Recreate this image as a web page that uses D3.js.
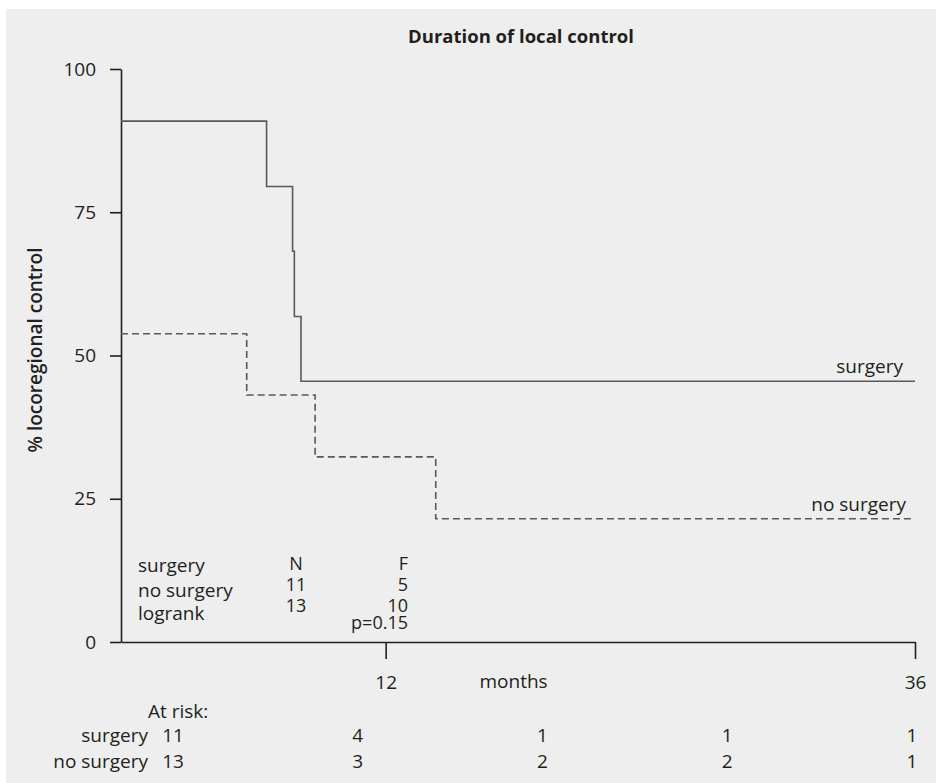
<!DOCTYPE html>
<html>
<head>
<meta charset="utf-8">
<script src="https://cdn.jsdelivr.net/npm/d3@7"></script>
<style>
  html, body { margin: 0; padding: 0; background: #ffffff; }
  svg { display: block; }
  text { font-family: "Open Sans", "Noto Sans", sans-serif; fill: #231f20; }
</style>
</head>
<body>
<script>
// Kaplan–Meier estimates of locoregional control (percent) by month
const surgeryTimes   = [0, 6.6, 7.78, 7.86, 8.16, 36];
const surgeryValues  = [90.9, 79.5, 68.2, 56.8, 45.5, 45.5];
const noSurgeryTimes  = [0, 5.7, 8.8, 14.27, 36];
const noSurgeryValues = [53.8, 43.1, 32.3, 21.5, 21.5];

const yTicks = [0, 25, 50, 75, 100];
const xTicks = [12, 36];

// Summary table inside the plot
const groupNames = ["surgery", "no surgery"];
const groupN = [11, 13];
const groupF = [5, 10];
const logrankP = "p=0.15";

// Numbers at risk
const riskTimes = [0, 9, 18, 27, 36];
const riskSurgery = [11, 4, 1, 1, 1];
const riskNoSurgery = [13, 3, 2, 2, 1];

const W = 936, H = 783;
const svg = d3.select("body").append("svg").attr("width", W).attr("height", H);

// panel background
svg.append("rect").attr("x", 6).attr("y", 9).attr("width", W - 6).attr("height", H - 9)
  .attr("fill", "#eeeeee");

const x = d3.scaleLinear().domain([0, 36]).range([121, 915]);
const y = d3.scaleLinear().domain([0, 100]).range([642, 69]);
const xRisk = d3.scaleLinear().domain([0, 36]).range([173, 912]);

const axisColor = "#231f20";
const curveColor = "#58595b";
const fs = 19;

// y axis
const gy = svg.append("g").attr("transform", `translate(${x(0)},0)`)
  .call(d3.axisLeft(y).tickValues(yTicks).tickSize(11).tickSizeOuter(0).tickPadding(14));
gy.select(".domain").attr("stroke", axisColor).attr("stroke-width", 1.6);
gy.selectAll(".tick line").attr("stroke", axisColor).attr("stroke-width", 1.6);
gy.selectAll(".tick text").attr("font-size", fs).attr("font-family", "Open Sans").attr("fill", "#231f20");

// x axis
const gx = svg.append("g").attr("transform", `translate(0,${y(0)})`)
  .call(d3.axisBottom(x).tickValues(xTicks).tickSize(17).tickSizeOuter(0).tickPadding(17));
gx.select(".domain").attr("stroke", axisColor).attr("stroke-width", 1.6);
gx.selectAll(".tick line").attr("stroke", axisColor).attr("stroke-width", 1.6);
gx.selectAll(".tick text").attr("font-size", fs).attr("font-family", "Open Sans").attr("fill", "#231f20");

svg.append("text").attr("x", x(17.8)).attr("y", 688).attr("text-anchor", "middle")
  .attr("font-size", fs).text("months");

// survival curves
const line = d3.line().curve(d3.curveStepAfter).x(d => x(d[0])).y(d => y(d[1]));
svg.append("path").datum(d3.zip(surgeryTimes, surgeryValues))
  .attr("d", line).attr("fill", "none").attr("stroke", curveColor).attr("stroke-width", 1.6);
svg.append("path").datum(d3.zip(noSurgeryTimes, noSurgeryValues))
  .attr("d", line).attr("fill", "none").attr("stroke", curveColor).attr("stroke-width", 1.6)
  .attr("stroke-dasharray", "7,4");

// curve labels
svg.append("text").attr("x", 903).attr("y", y(surgeryValues[surgeryValues.length - 1]) - 8)
  .attr("text-anchor", "end").attr("font-size", fs).text("surgery");
svg.append("text").attr("x", 906).attr("y", y(noSurgeryValues[noSurgeryValues.length - 1]) - 8)
  .attr("text-anchor", "end").attr("font-size", fs).text("no surgery");

// title and y label
svg.append("text").attr("x", 521).attr("y", 43).attr("text-anchor", "middle")
  .attr("font-size", 18.5).attr("font-weight", "bold").text("Duration of local control");
svg.append("text").attr("transform", "translate(42,350) rotate(-90)").attr("text-anchor", "middle")
  .attr("font-size", 19).attr("font-weight", 600).text("% locoregional control");

// summary table: group names, N and F (events), logrank p value
const tbl = svg.append("g");
const tfs = 18;
[...groupNames, "logrank"].forEach((t, i) => {
  tbl.append("text").attr("x", 138).attr("y", [572, 597, 620][i]).attr("font-size", fs).text(t);
});
tbl.append("text").attr("x", 296).attr("y", 570).attr("text-anchor", "middle").attr("font-size", tfs).text("N");
tbl.append("text").attr("x", 408).attr("y", 570).attr("text-anchor", "end").attr("font-size", tfs).text("F");
groupN.forEach((v, i) => {
  tbl.append("text").attr("x", 296).attr("y", [591, 612][i]).attr("text-anchor", "middle").attr("font-size", tfs).text(v);
});
groupF.forEach((v, i) => {
  tbl.append("text").attr("x", 408).attr("y", [591, 612][i]).attr("text-anchor", "end").attr("font-size", tfs).text(v);
});
tbl.append("text").attr("x", 408).attr("y", 629).attr("text-anchor", "end").attr("font-size", tfs).text(logrankP);

// numbers at risk
svg.append("text").attr("x", 148).attr("y", 718).attr("font-size", fs).text("At risk:");
[[groupNames[0], riskSurgery, 742], [groupNames[1], riskNoSurgery, 768]].forEach(([name, vals, yy]) => {
  svg.append("text").attr("x", 148).attr("y", yy).attr("text-anchor", "end").attr("font-size", fs).text(name);
  vals.forEach((v, i) => {
    svg.append("text").attr("x", xRisk(riskTimes[i])).attr("y", yy).attr("text-anchor", "middle")
      .attr("font-size", fs).text(v);
  });
});
</script>
</body>
</html>
